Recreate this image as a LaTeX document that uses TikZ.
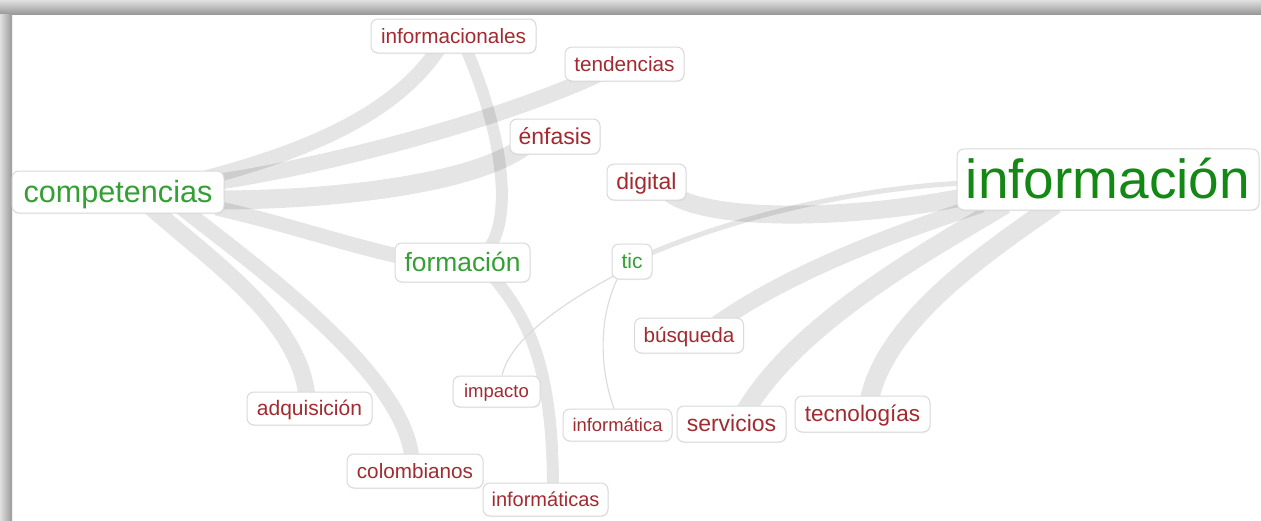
\documentclass[tikz,border=0pt]{standalone}
\usepackage{fontspec}
\setmainfont{Liberation Sans}
\usetikzlibrary{shadows}
\pgfdeclarelayer{frame}
\pgfdeclarelayer{edges}
\pgfsetlayers{frame,edges,main}
\definecolor{wred}{RGB}{162,42,48}
\definecolor{wgreen}{RGB}{52,160,52}
\definecolor{wdgreen}{RGB}{20,136,20}
\definecolor{wborder}{RGB}{218,218,218}
\newcommand\tsz[1]{\fontsize{#1}{#1}\selectfont}
\newcommand\tgline[1]{\rule[-0.21em]{0pt}{1.11em}#1}
\begin{document}
\begin{tikzpicture}[x=1pt,y=-1pt,
  tag/.style={draw=wborder, line width=1pt, rounded corners=7pt, fill=white,
    inner sep=0pt, text=wred,
    drop shadow={opacity=0.10, shadow xshift=0.6pt, shadow yshift=-1pt}},
  band/.style={draw=black, draw opacity=0.1, line width=#1},
  thinlink/.style={draw=black!14, line width=1.1pt},
]
\useasboundingbox (0,0) rectangle (1261,520);

% nodes
\node[tag, minimum width=165pt, minimum height=34pt, font=\tsz{20.7}] (informacionales) at (453.5,36) {\tgline{informacionales}};
\node[tag, minimum width=119pt, minimum height=34pt, font=\tsz{20.7}] (tendencias) at (624.5,64) {\tgline{tendencias}};
\node[tag, minimum width=90pt, minimum height=35pt, font=\tsz{23}] (enfasis) at (555,136.5) {\tgline{énfasis}};
\node[tag, minimum width=212pt, minimum height=42pt, font=\tsz{30.6}, text=wgreen] (competencias) at (118,192) {\tgline{competencias}};
\node[tag, minimum width=79pt, minimum height=36pt, font=\tsz{23}] (digital) at (646.5,182) {\tgline{digital}};
\node[tag, minimum width=302pt, minimum height=61pt, font=\tsz{55}, text=wdgreen] (informacion) at (1108,179.5) {\tgline{información}};
\node[tag, minimum width=135pt, minimum height=39pt, font=\tsz{26.4}, text=wgreen] (formacion) at (462.5,262.5) {\tgline{formación}};
\node[tag, minimum width=40pt, minimum height=35pt, font=\tsz{21}, text=wgreen] (tic) at (632,261.5) {\tgline{tic}};
\node[tag, minimum width=109pt, minimum height=35pt, font=\tsz{20.7}] (busqueda) at (689,335.5) {\tgline{búsqueda}};
\node[tag, minimum width=87pt, minimum height=31pt, font=\tsz{18.5}] (impacto) at (496.5,391.5) {\tgline{impacto}};
\node[tag, minimum width=125pt, minimum height=33pt, font=\tsz{21}] (adquisicion) at (309.5,408.5) {\tgline{adquisición}};
\node[tag, minimum width=109pt, minimum height=32pt, font=\tsz{18.4}] (informatica) at (617.5,425) {\tgline{informática}};
\node[tag, minimum width=109pt, minimum height=36pt, font=\tsz{23}] (servicios) at (731.5,424) {\tgline{servicios}};
\node[tag, minimum width=135pt, minimum height=36pt, font=\tsz{22.5}] (tecnologias) at (862.5,414) {\tgline{tecnologías}};
\node[tag, minimum width=136pt, minimum height=34pt, font=\tsz{20.7}] (colombianos) at (415,471) {\tgline{colombianos}};
\node[tag, minimum width=125pt, minimum height=33pt, font=\tsz{20}] (informaticas) at (545.5,499.5) {\tgline{informáticas}};

% frame
\begin{pgfonlayer}{frame}
\fill[white] (0,0) rectangle (1261,520);
\shade[top color=black!12, middle color=black!16, bottom color=black!40] (0,0) rectangle (1261,14);
\shade[left color=black!12, middle color=black!16, right color=black!40] (0,14) rectangle (12,520);
\end{pgfonlayer}

% connectors
\begin{pgfonlayer}{edges}
\draw[band=15pt] ([xshift=89pt,yshift=-7pt]competencias.north) .. controls (322,147) and (400,108) .. ([xshift=-13.5pt,yshift=7pt]informacionales.south);
\draw[band=16pt] ([xshift=-8pt,yshift=10pt]competencias.east) .. controls (330,165) and (500,120) .. ([xshift=-26.5pt,yshift=7pt]tendencias.south);
\draw[band=19pt] ([xshift=-8pt,yshift=-8pt]competencias.east) .. controls (330,200) and (470,185) .. ([xshift=-31pt,yshift=8pt]enfasis.south);
\draw[band=15pt] ([xshift=-8pt,yshift=-16pt]competencias.east) .. controls (290,225) and (340,243) .. ([xshift=8pt,yshift=5.5pt]formacion.west);
\draw[band=17pt] ([xshift=32pt,yshift=7pt]competencias.south) .. controls (210,260) and (300,320) .. ([xshift=-2.5pt,yshift=-6pt]adquisicion.north);
\draw[band=15pt] ([xshift=62pt,yshift=7pt]competencias.south) .. controls (240,255) and (405,370) .. ([xshift=-3pt,yshift=-6pt]colombianos.north);
\draw[band=12pt] ([xshift=11.5pt,yshift=7pt]informacionales.south) .. controls (500,125) and (515,215) .. ([xshift=25.5pt,yshift=-7pt]formacion.north);
\draw[band=12pt] ([xshift=29.5pt,yshift=7pt]formacion.south) .. controls (530,320) and (553,370) .. ([xshift=7.5pt,yshift=-7pt]informaticas.north);
\draw[band=18pt] ([xshift=23.5pt,yshift=7pt]digital.south) .. controls (710,222) and (850,220) .. ([xshift=8pt,yshift=-17.5pt]informacion.west);
\draw[band=5pt] ([xshift=-6pt,yshift=6.5pt]tic.east) .. controls (740,215) and (860,188) .. ([xshift=8pt,yshift=-3.5pt]informacion.west);
\draw[band=16pt] ([xshift=-126pt,yshift=6pt]informacion.south) .. controls (920,225) and (800,265) .. ([xshift=28pt,yshift=-6pt]busqueda.north);
\draw[band=19pt] ([xshift=-103pt,yshift=6pt]informacion.south) .. controls (930,250) and (800,320) .. ([xshift=13.5pt,yshift=-6pt]servicios.north);
\draw[band=19pt] ([xshift=-53pt,yshift=6pt]informacion.south) .. controls (990,250) and (885,320) .. ([xshift=6.5pt,yshift=-6pt]tecnologias.north);
\draw[thinlink] ([xshift=3pt,yshift=4pt]tic.south west) .. controls (560,305) and (510,340) .. ([xshift=5.5pt]impacto.north);
\draw[thinlink] ([xshift=-15pt]tic.south) .. controls (598,320) and (600,370) .. ([xshift=-3.5pt]informatica.north);
\end{pgfonlayer}
\end{tikzpicture}
\end{document}
